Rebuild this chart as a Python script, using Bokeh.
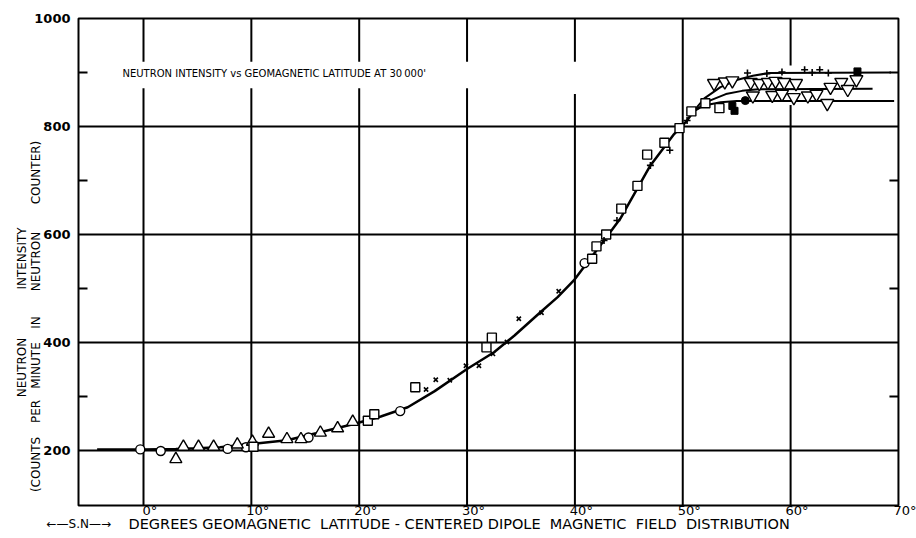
import math
from bokeh.plotting import figure
from bokeh.models import Label, Range1d
from bokeh.embed import file_html
from bokeh.resources import INLINE

# ---------------- data ----------------
# fitted curve (main branch)
curve_lat = [-4.3, 0.0, 3.0, 5.0, 7.1, 10.0, 13.3, 16.0, 19.5, 22.0, 24.5, 27.0, 30.0,
             32.5, 34.4, 36.8, 38.4, 39.9, 42.7, 44.2, 47.0, 49.2, 50.4, 51.0]
curve_cnt = [202, 202, 203, 204, 206, 212, 219, 232, 249, 263, 280, 310, 351,
             382, 413, 456, 484, 515, 589, 629, 728, 786, 811, 828]
# three high-latitude branches
upper_lat = [51.0, 52.0, 53.5, 55.0, 56.5, 58.0, 69.3]
upper_cnt = [828, 852, 873, 886, 894, 899, 900]
middle_lat = [51.0, 52.5, 54.0, 55.5, 57.0, 67.6]
middle_cnt = [828, 848, 860, 866, 869, 870]
lower_lat = [51.0, 52.0, 53.5, 55.0, 69.6]
lower_cnt = [828, 839, 845, 847, 847]

circle_lat = [-0.3, 1.6, 7.8, 9.5, 15.3, 23.8, 40.9]
circle_cnt = [202, 199, 203, 206, 224, 273, 547]

tri_lat = [3.0, 3.7, 5.1, 6.5, 8.7, 10.1, 11.6, 13.3, 14.6, 16.4, 18.0, 19.4]
tri_cnt = [184, 207, 207, 207, 211, 216, 231, 221, 221, 233, 241, 253]

square_lat = [10.2, 20.8, 21.4, 25.2, 31.8, 32.3, 41.6, 42.0, 42.9, 44.3, 45.8,
              46.7, 48.3, 49.7, 50.8, 52.1, 53.4]
square_cnt = [207, 255, 267, 317, 391, 409, 555, 578, 600, 648, 690,
              748, 770, 797, 828, 843, 834]

xmark_lat = [26.2, 27.1, 28.4, 29.9, 31.1, 32.4, 33.7, 34.8, 36.9, 38.5]
xmark_cnt = [313, 331, 330, 357, 357, 379, 401, 444, 455, 495]

plus_lat = [42.7, 43.9, 47.0, 48.8, 50.4, 56.0, 57.8, 59.2, 61.3, 62.0, 62.7, 63.5]
plus_cnt = [589, 626, 728, 756, 811, 899, 898, 901, 905, 900, 905, 899]

itri_lat = [52.9, 53.9, 54.6, 56.3, 57.1, 57.9, 58.6, 59.4, 60.5, 63.7, 64.7, 66.1,
            56.5, 58.3, 59.2, 60.3, 61.6, 62.4, 63.4, 65.3]
itri_cnt = [880, 883, 885, 882, 880, 882, 884, 882, 880, 873, 882, 887,
            857, 858, 860, 854, 857, 860, 843, 869]

fsq_lat = [54.6, 54.8, 66.2]
fsq_cnt = [838, 829, 902]
fcirc_lat = [55.8]
fcirc_cnt = [848]

y_ticks = [200, 400, 600, 800, 1000]
y_minor = [300, 500, 700, 900]
x_ticks = [0, 10, 20, 30, 40, 50, 60, 70]
x_tick_labels = ["0°", "10°", "20°", "30°", "40°", "50°", "60°", "70°"]
h_grid = [200, 400, 600, 800]
v_grid = [0, 10, 20, 30, 40, 50, 60]

x_title = "DEGREES GEOMAGNETIC\u00a0 LATITUDE - CENTERED DIPOLE\u00a0 MAGNETIC\u00a0 FIELD\u00a0 DISTRIBUTION"
y_title_col1 = ["NEUTRON", "INTENSITY"]
y_title_col2 = ["(COUNTS", "PER", "MINUTE", "IN", "NEUTRON", "COUNTER)"]

# ---------------- geometry of the sheet ----------------
W, H = 916, 538
PX_LAT0, PX_PER_DEG = 143.0, 10.785      # pixel of 0 deg, pixels per degree
PY_200, PY_PER_CNT = 450.0, 0.54         # pixel of 200 counts, pixels per count


def dx(px):
    return (px - PX_LAT0) / PX_PER_DEG


def dy(py):
    return 200 + (PY_200 - py) / PY_PER_CNT


# plotting box of the original graph
BX0, BX1 = dx(78), 70.0
BY0, BY1 = dy(505), 1000.0

p = figure(width=W, height=H, x_range=Range1d(dx(0), dx(W)), y_range=Range1d(dy(H), dy(0)),
           output_backend="svg", toolbar_location=None,
           x_axis_location=None, y_axis_location=None,
           min_border=0, min_border_left=0, min_border_right=0,
           min_border_top=0, min_border_bottom=0)
p.xgrid.visible = False
p.ygrid.visible = False
p.outline_line_color = None
p.background_fill_color = "white"
p.border_fill_color = "white"

# grid lines (graph paper), with gaps where the lettering sits
gx0, gy0, gx1, gy1 = [], [], [], []
for g in h_grid:
    gx0.append(BX0); gx1.append(BX1); gy0.append(g); gy1.append(g)
for g in v_grid:
    if g <= 30:
        spans = [(BY0, 871), (920, BY1)]
    elif g == 40:
        spans = [(BY0, 860), (920, BY1)]
    elif g == 60:
        spans = [(BY0, 840), (913, BY1)]
    else:
        spans = [(BY0, BY1)]
    for a, b in spans:
        gx0.append(g); gx1.append(g); gy0.append(a); gy1.append(b)
p.segment(gx0, gy0, gx1, gy1, line_color="black", line_width=2)

# border of the graph
p.quad(left=[BX0], right=[BX1], bottom=[BY0], top=[BY1], fill_color=None,
       line_color="black", line_width=2)

# inward minor ticks on both sides
tick_len = 9 / PX_PER_DEG
p.segment([BX0] * len(y_minor), y_minor, [BX0 + tick_len] * len(y_minor), y_minor,
          line_color="black", line_width=2)
p.segment([BX1 - tick_len] * len(y_minor), y_minor, [BX1] * len(y_minor), y_minor,
          line_color="black", line_width=2)

# curves
p.line(curve_lat, curve_cnt, line_color="black", line_width=2.5)
p.line(upper_lat, upper_cnt, line_color="black", line_width=2)
p.line(middle_lat, middle_cnt, line_color="black", line_width=2)
p.line(lower_lat, lower_cnt, line_color="black", line_width=2)

# markers
mk = dict(line_color="black", line_width=1.4, fill_color="white")
p.scatter(circle_lat, circle_cnt, marker="circle", size=9, **mk)
p.scatter(tri_lat, tri_cnt, marker="triangle", size=12, **mk)
p.scatter(square_lat, square_cnt, marker="square", size=9, **mk)
p.scatter(itri_lat, itri_cnt, marker="inverted_triangle", size=13, **mk)
p.scatter(xmark_lat, xmark_cnt, marker="x", size=6, line_color="black", line_width=1.6)
p.scatter(plus_lat, plus_cnt, marker="cross", size=7, line_color="black", line_width=1.6)
p.scatter(fsq_lat, fsq_cnt, marker="square", size=7, line_color="black", fill_color="black")
p.scatter(fcirc_lat, fcirc_cnt, marker="circle", size=8, line_color="black", fill_color="black")

FONT = "DejaVu Sans"


def label(x, y, text, size, align="center", angle=0.0, style="normal"):
    p.add_layout(Label(x=x, y=y, text=text, angle=angle, text_font=FONT,
                       text_font_size=size, text_font_style=style, text_align=align,
                       text_baseline="middle", text_color="black"))


# title inside the graph
label(dx(122), dy(73), "NEUTRON  INTENSITY  vs  GEOMAGNETIC  LATITUDE  AT  30\u2009000'",
      "10px", align="left")

# y tick labels
for t in y_ticks:
    label(dx(70), t, str(t), "13px", align="right", style="bold")

# x tick labels
for t, lab in zip(x_ticks, x_tick_labels):
    label(t + 0.6, dy(510), lab, "13px")

# x axis title
label(dx(46), dy(523), "\u2190\u2014S.N\u2014\u2192", "12px", align="left")
label(dx(128), dy(523), x_title, "14.5px", align="left")

# y axis title (two rotated columns)
for word, cy in zip(y_title_col1, [367, 258]):
    label(dx(21), dy(cy), word, "12px", angle=math.pi / 2)
for word, cy in zip(y_title_col2, [464, 411, 365, 322, 261, 172]):
    label(dx(35), dy(cy), word, "12px", angle=math.pi / 2)

open("out.html", "w").write(file_html(p, INLINE))
